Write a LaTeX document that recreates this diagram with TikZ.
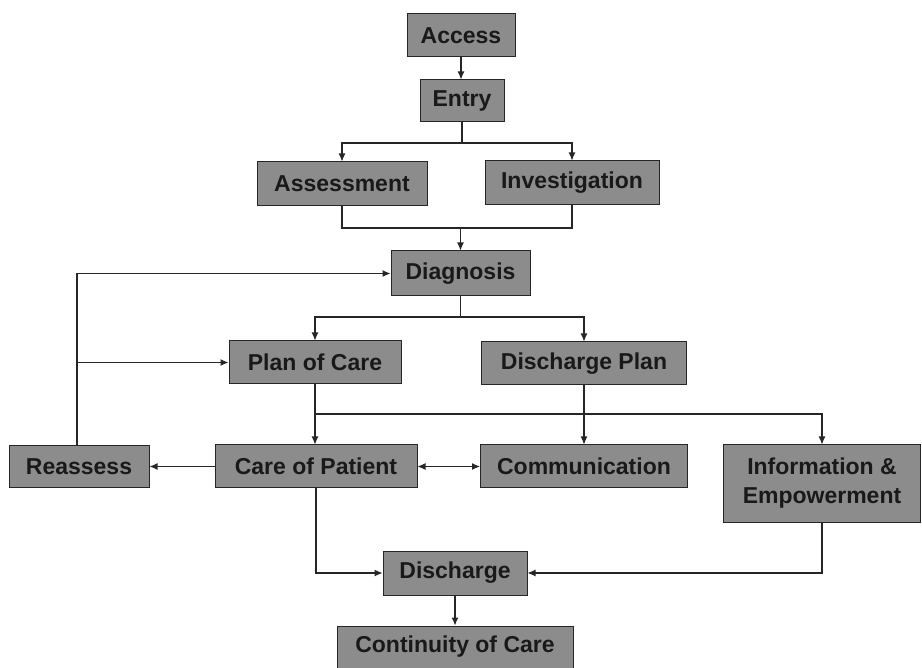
\documentclass[tikz,border=0pt]{standalone}
\usepackage{fontspec}
\setmainfont{Liberation Sans}
\usetikzlibrary{arrows.meta}
\definecolor{boxgray}{RGB}{140,140,140}
\begin{document}
\begin{tikzpicture}[x=1pt,y=-1pt,
  box/.style={draw=black!85,line width=1pt,fill=boxgray,inner sep=0pt,
    font=\fontsize{23}{29}\selectfont\bfseries,text=black!90,align=center},
  conn/.style={line width=1.1pt,draw=black!85},
  arr/.style={conn,-{Latex[length=8pt,width=7pt]}},
  darr/.style={conn,{Latex[length=8pt,width=7pt]}-{Latex[length=8pt,width=7pt]}}]
\useasboundingbox (0,0) rectangle (922,668);
\fill[white] (0,0) rectangle (922,668);
\node[box,minimum width=108pt,minimum height=43pt] (access) at (461,35.5) {Access};
\node[box,minimum width=84pt,minimum height=42pt] (entry) at (462,101) {Entry};
\node[box,minimum width=170pt,minimum height=44pt] (assess) at (342,184) {Assessment};
\node[box,minimum width=174pt,minimum height=44pt] (invest) at (572,183) {Investigation};
\node[box,minimum width=139pt,minimum height=45pt] (diag) at (460.5,273.5) {Diagnosis};
\node[box,minimum width=172pt,minimum height=43pt] (plan) at (315,362.5) {Plan of Care};
\node[box,minimum width=205pt,minimum height=43pt] (dplan) at (584,363.5) {Discharge Plan};
\node[box,minimum width=140pt,minimum height=42pt] (reass) at (79,466.5) {Reassess};
\node[box,minimum width=202pt,minimum height=43pt] (care) at (316,466.5) {Care of Patient};
\node[box,minimum width=207pt,minimum height=43pt] (comm) at (584,466.5) {Communication};
\node[box,minimum width=197pt,minimum height=77pt] (info) at (822,483.5) {Information \&\\Empowerment};
\node[box,minimum width=144pt,minimum height=44pt] (disch) at (455,573) {Discharge};
\node[box,minimum width=236pt,minimum height=42pt] (cont) at (455,647) {Continuity of Care};
% connectors
\draw[arr] (access.south) -- (access.south |- entry.north);
\coordinate (s1) at (entry.south |- 0,143);
\draw[conn] (entry.south) -- (s1);
\draw[arr] (s1) -| (assess.north);
\draw[arr] (s1) -| (invest.north);
\coordinate (m1) at (diag.north |- 0,228);
\draw[conn] (assess.south) |- (m1) -| (invest.south);
\draw[arr] (m1) -- (diag.north);
\draw[arr] ([xshift=-2pt]reass.north) |- (diag.west);
\coordinate (r1) at ([xshift=-2pt]reass.north |- plan.west);
\draw[arr] (r1) -- (plan.west);
\coordinate (s2) at (diag.south |- 0,317);
\draw[conn] (diag.south) -- (s2);
\draw[arr] (s2) -| (plan.north);
\draw[arr] (s2) -| (dplan.north);
\draw[arr] (plan.south) -- (plan.south |- care.north);
\coordinate (s3) at (plan.south |- 0,414);
\draw[arr] (s3) -| (info.north);
\draw[arr] (dplan.south) -- (comm.north);
\draw[arr] (care.west) -- (reass.east);
\draw[darr] (care.east) -- (comm.west);
\draw[arr] (care.south) |- (disch.west);
\draw[arr] (info.south) |- (disch.east);
\draw[arr] (disch.south) -- (cont.north);
\end{tikzpicture}
\end{document}
